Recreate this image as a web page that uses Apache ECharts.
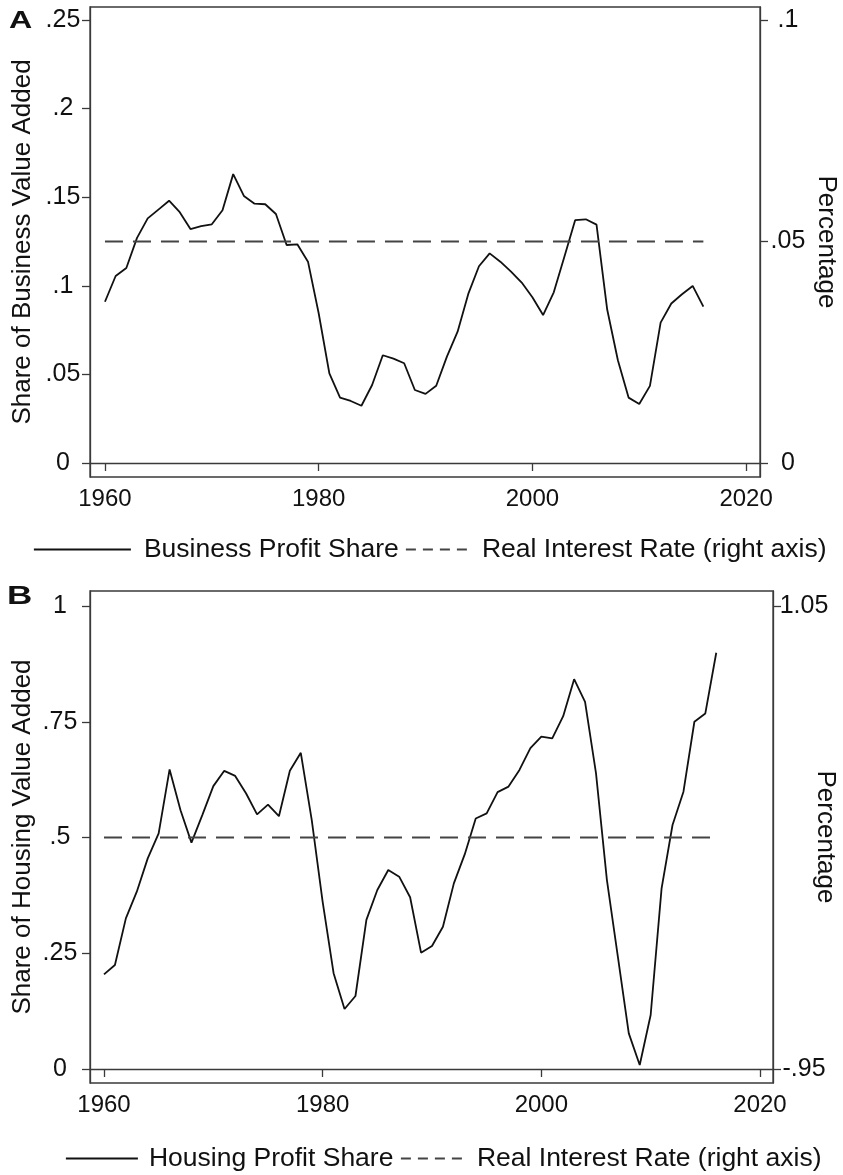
<!DOCTYPE html>
<html>
<head>
<meta charset="utf-8">
<script src="https://cdn.jsdelivr.net/npm/echarts@6/dist/echarts.min.js"></script>
<style>
html,body{margin:0;padding:0;background:#fff;}
#c{width:843px;height:1175px;}
</style>
</head>
<body>
<div id="c"></div>
<script>
// ---- data ----
const years = [1960,1961,1962,1963,1964,1965,1966,1967,1968,1969,
  1970,1971,1972,1973,1974,1975,1976,1977,1978,1979,
  1980,1981,1982,1983,1984,1985,1986,1987,1988,1989,
  1990,1991,1992,1993,1994,1995,1996,1997,1998,1999,
  2000,2001,2002,2003,2004,2005,2006,2007,2008,2009,
  2010,2011,2012,2013,2014,2015,2016];
const businessShare = [0.091,0.1055,0.110,0.127,0.138,0.143,0.148,0.1415,0.132,0.1336,
  0.1347,0.1426,0.163,0.1507,0.1463,0.146,0.1405,0.123,0.1234,0.1136,
  0.0845,0.0506,0.0369,0.035,0.0323,0.044,0.0608,0.0589,0.0563,0.0412,
  0.039,0.0436,0.060,0.0741,0.0954,0.111,0.1183,0.1136,0.108,0.1018,
  0.0935,0.0835,0.0963,0.1165,0.137,0.1375,0.1345,0.0866,0.058,0.0369,
  0.0333,0.0435,0.0792,0.090,0.0952,0.0999,0.0882];
const housingShare = [0.2045,0.2246,0.3254,0.383,0.455,0.509,0.647,0.559,0.489,0.549,
  0.611,0.644,0.633,0.595,0.550,0.571,0.546,0.644,0.683,0.538,
  0.361,0.207,0.1296,0.1577,0.322,0.3866,0.4298,0.4154,0.371,0.2513,
  0.2657,0.3074,0.401,0.464,0.541,0.552,0.598,0.610,0.646,0.693,
  0.718,0.714,0.762,0.842,0.793,0.639,0.408,0.243,0.077,0.0086,
  0.1166,0.390,0.527,0.599,0.750,0.768,0.899];
const rateYears = [1960, 2016];
const realRateA = [0.05, 0.05];
const realRateB = [0.05, 0.05];

const xTicks = [1960, 1980, 2000, 2020];
const yTicksA = [0, 0.05, 0.1, 0.15, 0.2, 0.25];
const yTicksARight = [0, 0.05, 0.1];
const yTicksB = [0, 0.25, 0.5, 0.75, 1];
const yTicksBRight = [-0.95, 1.05];

const names = {
  a: 'Business Profit Share', b: 'Housing Profit Share',
  ra: 'Real Interest Rate (right axis)', rb: 'Real Interest Rate (right axis) ',
  ya: 'Share of Business Value Added', yb: 'Share of Housing Value Added', yr: 'Percentage'
};

// ---- rendering ----
const FONT = '"Liberation Sans", Arial, Helvetica, sans-serif';
const AX = '#3a3a3a';
function fmt(v){
  if (v === 0) return '0';
  let s = String(+v.toFixed(4));
  return s.replace(/^(-?)0\./, '$1.');
}
function pairs(xs, ys){ return xs.map((x,i)=>[x, ys[i]]); }

function xAxisDef(gi, min, max){
  return {
    type:'value', gridIndex: gi, min, max,
    axisLine:{show:true, lineStyle:{color:AX, width:1.3}},
    axisTick:{show:true, length:8, lineStyle:{color:AX, width:1.3}, customValues:xTicks},
    axisLabel:{show:true, margin:10, fontSize:24, color:'#111', fontFamily:FONT, customValues:xTicks, formatter:v=>String(Math.round(v))},
    splitLine:{show:false}
  };
}
function yAxisDef(gi, pos, min, max, ticks, name, gap, rot, margin){
  return {
    type:'value', gridIndex: gi, position: pos, min, max,
    name, nameLocation:'middle', nameGap: gap, nameRotate: rot, nameMoveOverlap:false,
    nameTextStyle:{fontSize:26, color:'#111', fontFamily:FONT},
    axisLine:{show:true, lineStyle:{color:AX, width:1.3}},
    axisTick:{show:true, length:8, lineStyle:{color:AX, width:1.3}, customValues:ticks},
    axisLabel:{show:true, margin, align:'center', fontSize:25, color:'#111', fontFamily:FONT, customValues:ticks, formatter:fmt},
    splitLine:{show:false}
  };
}

const solid = {color:'#111', width:1.8, type:'solid'};
const dashed = {color:'#444', width:2, type:[18,10]};
const legText = {fontSize:26.5, color:'#111', fontFamily:FONT};
const hideSym = {opacity:0, color:'rgba(0,0,0,0)', borderWidth:0};
function leg(name, left, top, w, dash, pad){
  return {data:[name], left, top, padding:0, itemWidth:w, itemHeight:22, itemStyle:hideSym,
    textStyle:Object.assign({padding:[0,0,0,pad]}, legText),
    lineStyle:dash ? {width:1.8, type:[10,7]} : {width:1.8}, selectedMode:false};
}

const chart = echarts.init(document.getElementById('c'), null, {renderer:'canvas'});
chart.setOption({
  backgroundColor:'#fff',
  animation:false,
  grid:[
    {left:90, top:7, width:670, height:470, show:true, borderColor:AX, borderWidth:1.3, containLabel:false, outerBoundsMode:'none'},
    {left:90, top:591, width:683, height:492, show:true, borderColor:AX, borderWidth:1.3, containLabel:false, outerBoundsMode:'none'}
  ],
  xAxis:[ xAxisDef(0, 1958.6, 2021.3), xAxisDef(1, 1958.72, 2021.19) ],
  yAxis:[
    yAxisDef(0, 'left', -0.0079, 0.2573, yTicksA, names.ya, 54, 90, 27),
    yAxisDef(0, 'right', -0.00316, 0.10292, yTicksARight, names.yr, 53, -90, 28),
    yAxisDef(1, 'left', -0.0302, 1.0324, yTicksB, names.yb, 54, 90, 30),
    yAxisDef(1, 'right', -1.0104, 1.1148, yTicksBRight, names.yr, 39, -90, 31)
  ],
  legend:[
    leg(names.a, 33, 536, 97, false, 8),
    leg(names.ra, 405, 536, 65, true, 6),
    leg(names.b, 65, 1145, 72, false, 6),
    leg(names.rb, 400, 1145, 65, true, 6)
  ],
  graphic:[
    {type:'text', left:9, top:10, scaleX:1.4, style:{text:'A', font:'bold 23px '+FONT, fill:'#111'}},
    {type:'text', left:7, top:585, scaleX:1.4, style:{text:'B', font:'bold 25px '+FONT, fill:'#111'}}
  ],
  series:[
    {name:names.a, type:'line', xAxisIndex:0, yAxisIndex:0, data:pairs(years, businessShare), symbol:'none', lineStyle:solid, itemStyle:{color:'#111'}},
    {name:names.ra, type:'line', xAxisIndex:0, yAxisIndex:1, data:pairs(rateYears, realRateA), symbol:'none', lineStyle:dashed, itemStyle:{color:'#444'}},
    {name:names.b, type:'line', xAxisIndex:1, yAxisIndex:2, data:pairs(years, housingShare), symbol:'none', lineStyle:solid, itemStyle:{color:'#111'}},
    {name:names.rb, type:'line', xAxisIndex:1, yAxisIndex:3, data:pairs(rateYears, realRateB), symbol:'none', lineStyle:dashed, itemStyle:{color:'#444'}}
  ]
});
</script>
</body>
</html>
